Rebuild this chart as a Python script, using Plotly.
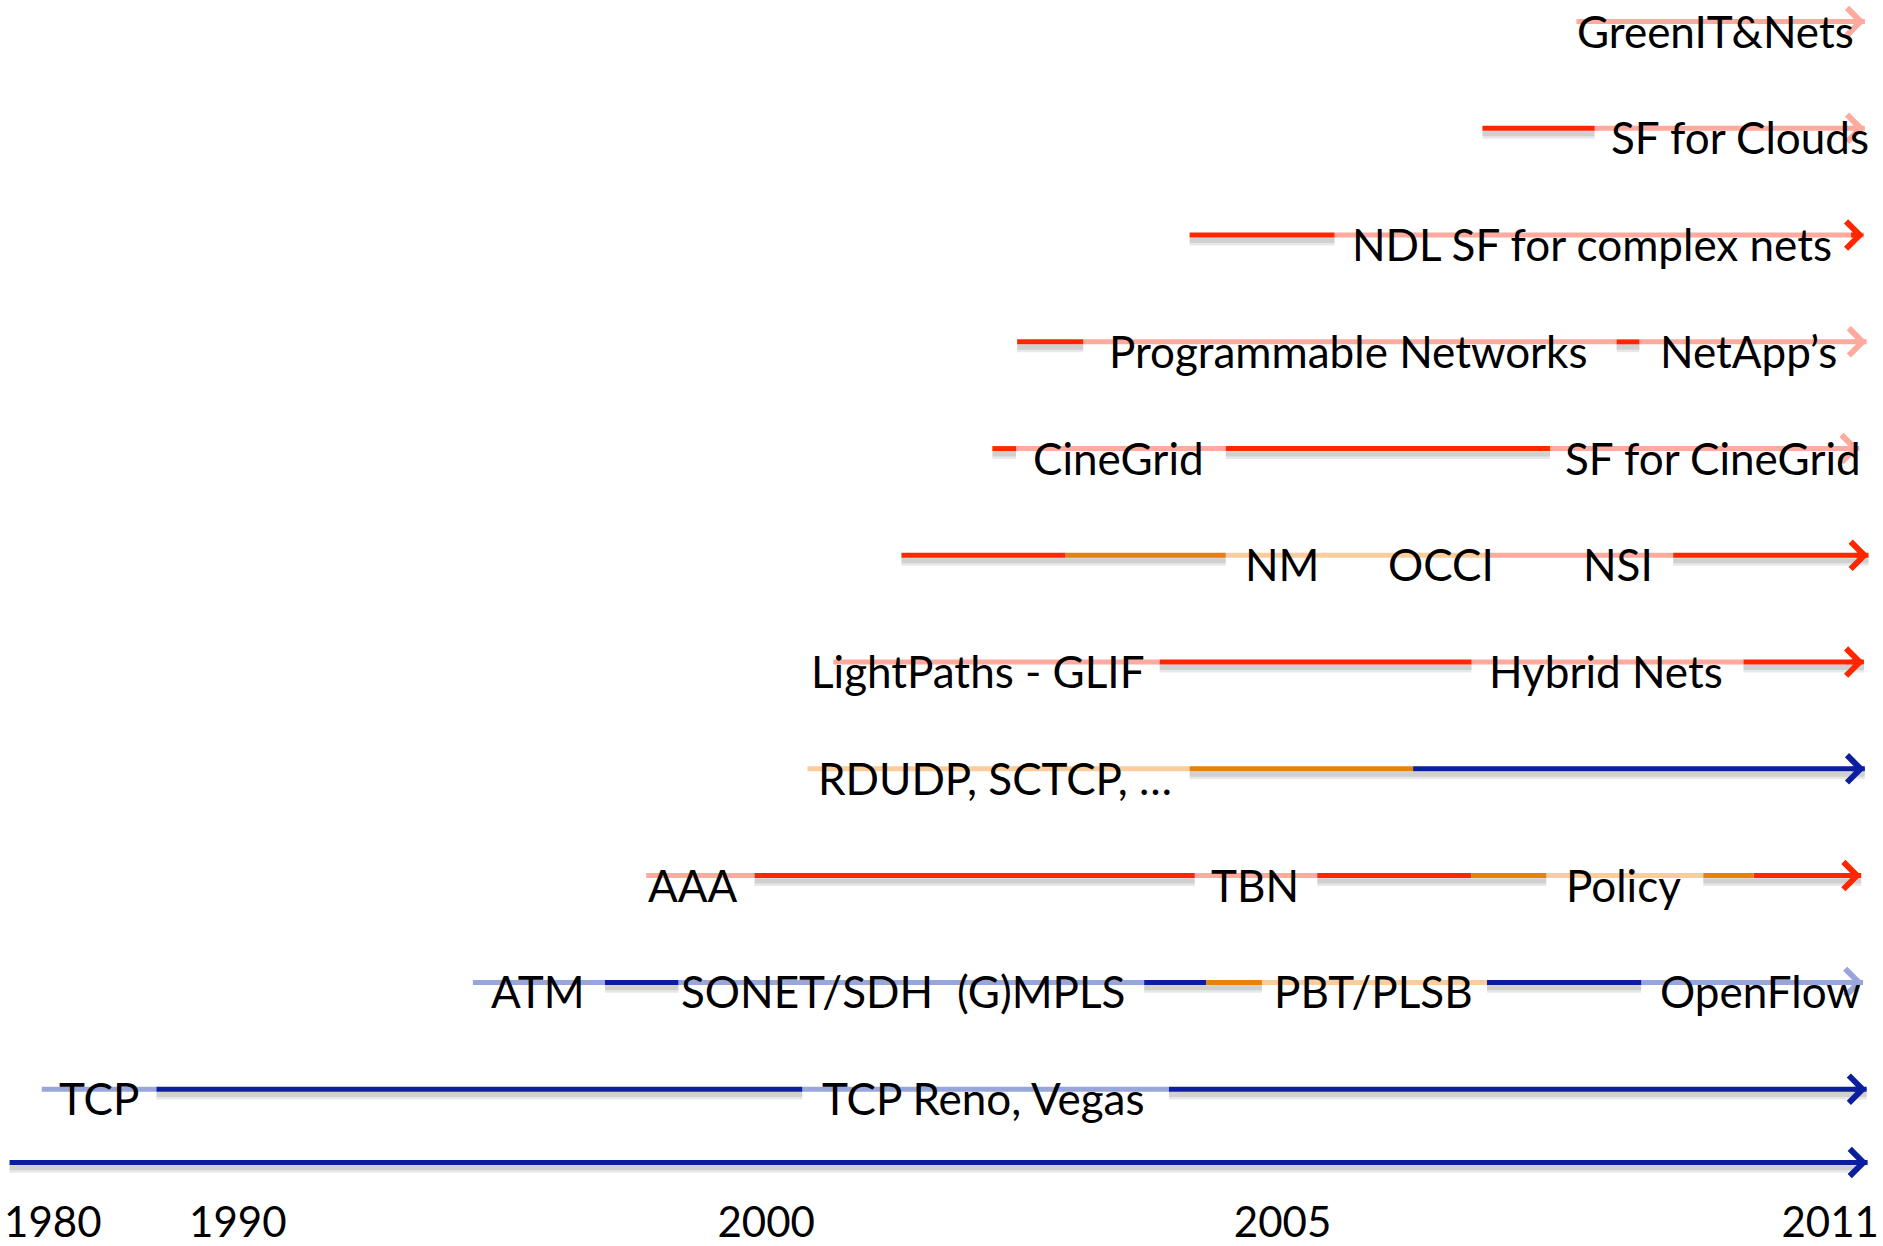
import numpy as np
import plotly.graph_objects as go

# ---------------- data (years) ----------------
TICK_YEARS = [1980, 1990, 2000, 2005, 2011]

# Segment kinds: B = blue, b = faded blue, R = red, r = faded red, O = orange, o = faded orange
TCP_BREAKS = [1979.4, 1985.6, 2000.35, 2003.9, 2011.4]
TCP_KINDS = ["b", "B", "b", "B"]
TCP_LABELS = ["TCP", "TCP Reno, Vegas"]
TCP_LABEL_YEARS = [1982.5, 2002.1]

ATM_BREAKS = [1994.45, 1996.95, 1998.34, 2003.66, 2004.26, 2004.8, 2007.24, 2008.93, 2011.36]
ATM_KINDS = ["b", "B", "b", "B", "O", "o", "B", "b"]
ATM_LABELS = ["ATM", "SONET/SDH", "(G)MPLS", "PBT/PLSB", "OpenFlow"]
ATM_LABEL_YEARS = [1995.68, 2000.4, 2002.66, 2006.0, 2010.24]

AAA_BREAKS = [1997.73, 1999.78, 2004.15, 2005.38, 2007.07, 2007.89, 2009.61, 2010.16, 2011.34]
AAA_KINDS = ["r", "R", "r", "R", "O", "o", "O", "R"]
AAA_LABELS = ["AAA", "TBN", "Policy"]
AAA_LABEL_YEARS = [1998.61, 2004.73, 2008.74]

RDUDP_BREAKS = [2000.4, 2004.1, 2006.43, 2011.38]
RDUDP_KINDS = ["o", "O", "B"]
RDUDP_LABELS = ["RDUDP, SCTCP, …"]
RDUDP_LABEL_YEARS = [2002.22]

LIGHT_BREAKS = [2000.65, 2003.81, 2007.07, 2010.05, 2011.37]
LIGHT_KINDS = ["r", "R", "r", "R"]
LIGHT_LABELS = ["LightPaths - GLIF", "Hybrid Nets"]
LIGHT_LABEL_YEARS = [2002.05, 2008.54]

NM_BREAKS = [2001.31, 2002.9, 2004.45, 2007.21, 2009.28, 2011.42]
NM_KINDS = ["R", "O", "o", "r", "R"]
NM_LABELS = ["NM", "OCCI", "NSI"]
NM_LABEL_YEARS = [2004.99, 2006.74, 2008.68]

CINE_BREAKS = [2002.19, 2002.42, 2004.45, 2007.93, 2011.32]
CINE_KINDS = ["R", "r", "R", "r"]
CINE_LABELS = ["CineGrid", "SF for CineGrid"]
CINE_LABEL_YEARS = [2003.41, 2009.72]

PROG_BREAKS = [2002.43, 2003.07, 2008.66, 2008.91, 2011.40]
PROG_KINDS = ["R", "r", "R", "r"]
PROG_LABELS = ["Programmable Networks", "NetApp’s"]
PROG_LABEL_YEARS = [2005.72, 2010.11]

NDL_BREAKS = [2004.1, 2005.57, 2011.37]
NDL_KINDS = ["R", "r"]
NDL_LABELS = ["NDL SF for complex nets"]
NDL_LABEL_YEARS = [2008.39]

CLOUD_BREAKS = [2007.19, 2008.42, 2011.38]
CLOUD_KINDS = ["R", "r"]
CLOUD_LABELS = ["SF for Clouds"]
CLOUD_LABEL_YEARS = [2010.01]

GREEN_BREAKS = [2008.22, 2011.38]
GREEN_KINDS = ["r"]
GREEN_LABELS = ["GreenIT&Nets"]
GREEN_LABEL_YEARS = [2009.74]

# arrow-head kind per row (bottom to top)
ARROW_KINDS = ["B", "b", "R", "B", "R", "R", "r", "r", "R", "r", "r"]

TIMELINE_START, TIMELINE_END = 1977.66, 2011.41

ROWS = [
    (TCP_BREAKS, TCP_KINDS, TCP_LABELS, TCP_LABEL_YEARS),
    (ATM_BREAKS, ATM_KINDS, ATM_LABELS, ATM_LABEL_YEARS),
    (AAA_BREAKS, AAA_KINDS, AAA_LABELS, AAA_LABEL_YEARS),
    (RDUDP_BREAKS, RDUDP_KINDS, RDUDP_LABELS, RDUDP_LABEL_YEARS),
    (LIGHT_BREAKS, LIGHT_KINDS, LIGHT_LABELS, LIGHT_LABEL_YEARS),
    (NM_BREAKS, NM_KINDS, NM_LABELS, NM_LABEL_YEARS),
    (CINE_BREAKS, CINE_KINDS, CINE_LABELS, CINE_LABEL_YEARS),
    (PROG_BREAKS, PROG_KINDS, PROG_LABELS, PROG_LABEL_YEARS),
    (NDL_BREAKS, NDL_KINDS, NDL_LABELS, NDL_LABEL_YEARS),
    (CLOUD_BREAKS, CLOUD_KINDS, CLOUD_LABELS, CLOUD_LABEL_YEARS),
    (GREEN_BREAKS, GREEN_KINDS, GREEN_LABELS, GREEN_LABEL_YEARS),
]

# ---------------- style / scale ----------------
COLORS = {
    "B": "#0c1ea0",
    "b": "#98a6dc",
    "R": "#ff2600",
    "r": "#ffaa9e",
    "O": "#e98008",
    "o": "#fbcd9c",
}
SOLID = {"B", "R", "O"}

# schematic (non-linear) time scale: tick years anchored along the axis
SCALE_POS = [44, 198, 638, 1068, 1524]


def to_axis(years):
    years = np.asarray(years, dtype=float)
    u = np.interp(years, TICK_YEARS, SCALE_POS)
    lo = (SCALE_POS[1] - SCALE_POS[0]) / (TICK_YEARS[1] - TICK_YEARS[0])
    hi = (SCALE_POS[-1] - SCALE_POS[-2]) / (TICK_YEARS[-1] - TICK_YEARS[-2])
    u = np.where(years < TICK_YEARS[0], SCALE_POS[0] + (years - TICK_YEARS[0]) * lo, u)
    u = np.where(years > TICK_YEARS[-1], SCALE_POS[-1] + (years - TICK_YEARS[-1]) * hi, u)
    return u


FONT = "Lato, 'Open Sans', sans-serif"
W, H = 1883, 1246
MB = 61
Y_LO, Y_HI = 0.102, 11.202
AXIS_ROW = 0.313
LINE_W = 5
SHADOW_DY = 0.05

fig = go.Figure()

# collect segments by kind
seg_x = {k: [] for k in COLORS}
seg_y = {k: [] for k in COLORS}
for i, (breaks, kinds, _, _) in enumerate(ROWS):
    row = i + 1
    u = to_axis(breaks)
    for j, k in enumerate(kinds):
        seg_x[k] += [u[j], u[j + 1], None]
        seg_y[k] += [row, row, None]

# shadows under solid segments
sx, sy = [], []
for k in SOLID:
    sx += seg_x[k]
    sy += [None if v is None else v - SHADOW_DY for v in seg_y[k]]
ax0, ax1 = to_axis([TIMELINE_START, TIMELINE_END])
sx += [ax0, ax1 - 10, None]
sy += [AXIS_ROW - SHADOW_DY, AXIS_ROW - SHADOW_DY, None]
fig.add_trace(go.Scatter(x=sx, y=sy, mode="lines", hoverinfo="skip",
                         line=dict(color="rgba(0,0,0,0.09)", width=10)))
fig.add_trace(go.Scatter(x=sx, y=sy, mode="lines", hoverinfo="skip",
                         line=dict(color="rgba(0,0,0,0.10)", width=5)))

for k in ["b", "r", "o", "B", "R", "O"]:
    if seg_x[k]:
        fig.add_trace(go.Scatter(x=seg_x[k], y=seg_y[k], mode="lines", hoverinfo="skip",
                                 line=dict(color=COLORS[k], width=LINE_W)))

# main time axis line
fig.add_trace(go.Scatter(x=[ax0, ax1], y=[AXIS_ROW, AXIS_ROW], mode="lines", hoverinfo="skip",
                         line=dict(color=COLORS["B"], width=5)))

annotations = []
# arrow heads
for i, (breaks, kinds, _, _) in enumerate(ROWS):
    row = i + 1
    end = float(to_axis(breaks[-1]))
    annotations.append(dict(x=end, y=row, ax=end - 12, ay=row, xref="x", yref="y",
                            axref="x", ayref="y", showarrow=True, arrowhead=4,
                            arrowsize=1.05, arrowwidth=LINE_W,
                            arrowcolor=COLORS[ARROW_KINDS[i]], text=""))
annotations.append(dict(x=float(ax1), y=AXIS_ROW, ax=float(ax1) - 12, ay=AXIS_ROW, xref="x", yref="y",
                        axref="x", ayref="y", showarrow=True, arrowhead=4,
                        arrowsize=1.05, arrowwidth=5, arrowcolor=COLORS["B"], text=""))

# labels
for i, (_, _, labels, label_years) in enumerate(ROWS):
    row = i + 1
    for lab, yr in zip(labels, label_years):
        annotations.append(dict(x=float(to_axis(yr)), y=row, xref="x", yref="y", text=lab,
                                showarrow=False, yshift=-9, xanchor="center", yanchor="middle",
                                font=dict(family=FONT, size=44, color="black")))

fig.update_layout(
    width=W, height=H,
    margin=dict(l=0, r=0, t=0, b=MB, pad=0),
    paper_bgcolor="white", plot_bgcolor="white",
    showlegend=False,
    annotations=annotations,
    xaxis=dict(range=[0, 1568], showgrid=False, zeroline=False, showline=False,
               automargin=False,
               tickmode="array", tickvals=list(to_axis(TICK_YEARS)),
               ticktext=[str(t) for t in TICK_YEARS],
               ticks="outside", ticklen=1, tickcolor="rgba(0,0,0,0)",
               tickfont=dict(family=FONT, size=42, color="black"), fixedrange=True),
    yaxis=dict(range=[Y_LO, Y_HI], showgrid=False, zeroline=False, showline=False,
               automargin=False, showticklabels=False, fixedrange=True),
)

fig.write_html("out.html", config={"displayModeBar": False},
               post_script="document.body.style.margin='0px';")
